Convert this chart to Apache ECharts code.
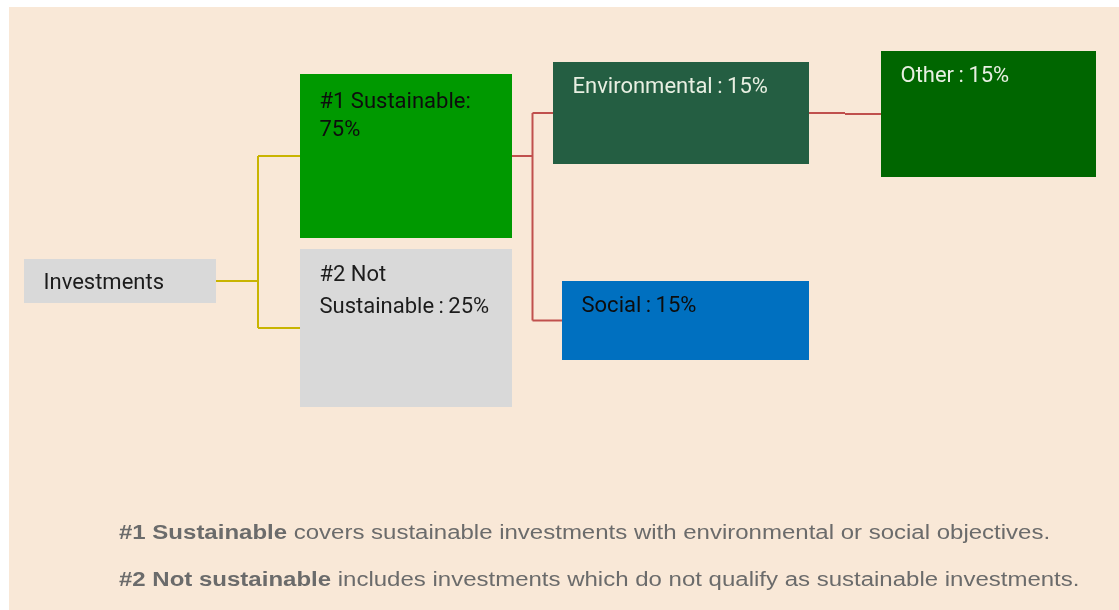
<!DOCTYPE html>
<html>
<head>
<meta charset="utf-8">
<script src="https://cdn.jsdelivr.net/npm/echarts@6/dist/echarts.min.js"></script>
<style>
  html, body { margin: 0; background: #fff; }
  #chart { position: absolute; left: 9px; top: 7px; width: 1110px; height: 603px; }
</style>
</head>
<body>
<div id="chart"></div>
<script>
// split of the investments, as a small tree
const nodeNames = ['Investments', '#1 Sustainable', '#2 Not Sustainable', 'Environmental', 'Social', 'Other']
const nodeParents = [-1, 0, 0, 1, 1, 3]
const nodeLabels = [
    'Investments',
    '#1 Sustainable:\n75%',
    '#2 Not\nSustainable\u2009:\u200925%',
    'Environmental\u2009:\u200915%',
    'Social\u2009:\u200915%',
    'Other\u2009:\u200915%'
]
const notesBold = ['#1 Sustainable', '#2 Not sustainable']
const notesText = [
    ' covers sustainable investments with environmental or social objectives.',
    ' includes investments which do not qualify as sustainable investments.'
]

// box layout, page pixels: [left, top, right, bottom]
const boxes = [
    [24, 259, 216, 303],
    [300, 74, 512, 238],
    [300, 249, 512, 407],
    [553, 62, 809, 164],
    [562, 281, 809, 360],
    [881, 51, 1096, 177]
]
const fills = ['#d9d9d9', '#009900', '#d9d9d9', '#245e42', '#0070c0', '#006600']
const inks = ['#1c1c1c', '#0d0d0d', '#1c1c1c', '#e8efe2', '#0d0d0d', '#e8efe2']
const lineGap = [22, 28, 32, 22, 22, 22]
const firstLine = [22, 26, 24, 23.5, 23.5, 23.5] // centre of first text line below box top
const linkColor = ['#c9b400', '#c0504d', '', '#c0504d']

let chart = echarts.init(document.getElementById('chart'))

function drawBox(params, api) {
    let i = api.value(4)
    let p0 = api.coord([api.value(0), api.value(1)])
    let p1 = api.coord([api.value(2), api.value(3)])
    return {
        type: 'group',
        children: [
            {
                type: 'rect',
                shape: { x: p0[0], y: p0[1], width: p1[0] - p0[0], height: p1[1] - p0[1] },
                style: { fill: fills[i] }
            },
            {
                type: 'text',
                x: p0[0] + 19.5,
                y: p0[1] + firstLine[i] + 2 - lineGap[i] / 2,
                style: {
                    text: nodeLabels[i],
                    fontSize: 22,
                    fontFamily: 'Roboto',
                    fill: inks[i],
                    lineHeight: lineGap[i],
                    verticalAlign: 'top'
                }
            }
        ]
    }
}

function drawFork(params, api) {
    let p = api.value(2)
    let kids = []
    nodeParents.forEach((q, k) => { if (q === p) kids.push(k) })
    let pb = boxes[p]
    let fromY = (pb[1] + pb[3]) / 2
    let forkX = (pb[2] + Math.min(...kids.map(k => boxes[k][0]))) / 2
    let ys = kids.map(k => (boxes[k][1] + boxes[k][3]) / 2)
    let segs = [
        [[pb[2], fromY], [forkX, fromY]],
        [[forkX, Math.min(fromY, ...ys)], [forkX, Math.max(fromY, ...ys)]]
    ]
    kids.forEach((k, j) => segs.push([[forkX, ys[j]], [boxes[k][0], ys[j]]]))
    return {
        type: 'group',
        children: segs.map(s => {
            let a = api.coord(s[0])
            let b = api.coord(s[1])
            return {
                type: 'line',
                shape: { x1: a[0], y1: a[1], x2: b[0], y2: b[1] },
                style: { stroke: linkColor[p], lineWidth: 2 }
            }
        })
    }
}

let forks = []
nodeParents.forEach(q => { if (q >= 0 && !forks.includes(q)) forks.push(q) })

chart.setOption({
    backgroundColor: '#f9e8d7',
    animation: false,
    grid: { left: 0, right: 0, top: 0, bottom: 0 },
    xAxis: { type: 'value', min: 9, max: 1119, show: false },
    yAxis: { type: 'value', min: 7, max: 610, inverse: true, show: false },
    series: [
        {
            type: 'custom',
            name: 'links',
            renderItem: drawFork,
            encode: { x: 0, y: 1 },
            data: forks.map(p => [boxes[p][2], (boxes[p][1] + boxes[p][3]) / 2, p]),
            z: 1
        },
        {
            type: 'custom',
            name: 'boxes',
            renderItem: drawBox,
            encode: { x: [0, 2], y: [1, 3] },
            data: boxes.map((b, i) => [b[0], b[1], b[2], b[3], i, nodeNames[i]]),
            z: 2
        }
    ],
    // the two notes under the diagram
    graphic: notesBold.map((b, i) => ({
        type: 'text',
        x: 110,
        y: 526.5 + i * 47,
        scaleX: 1.2,
        style: {
            text: '{b|' + b + '}' + notesText[i],
            fontSize: 20,
            fontFamily: 'Liberation Sans',
            fill: '#6b6b6b',
            verticalAlign: 'middle',
            rich: {
                b: { fontSize: 20, fontFamily: 'Liberation Sans', fontWeight: 'bold', fill: '#6b6b6b' }
            }
        }
    }))
})
</script>
</body>
</html>
